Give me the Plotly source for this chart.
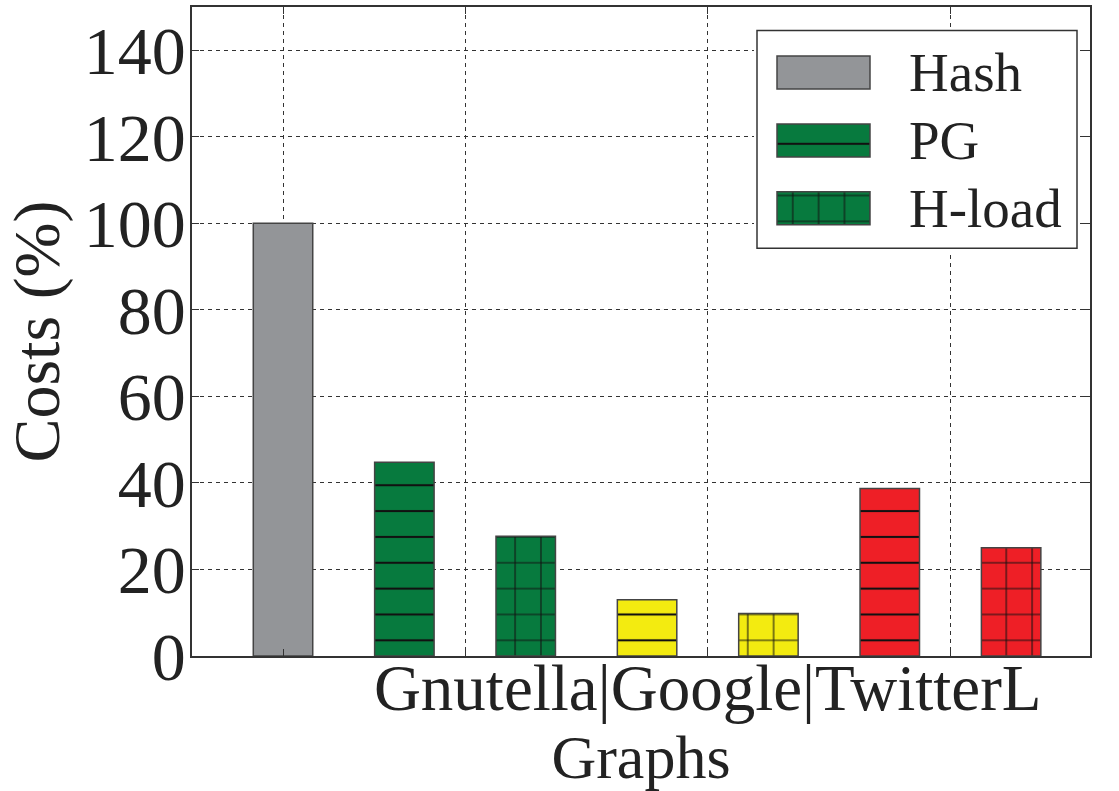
import plotly.graph_objects as go

# ---- data -------------------------------------------------------------
graphs = ["Gnutella", "Google", "TwitterL"]
hash_cost = [100.0]
pg_cost = [44.8, 13.0, 38.7]
hload_cost = [27.7, 9.8, 25.0]
series_names = ["Hash", "PG", "H-load"]
y_ticks = [0, 20, 40, 60, 80, 100, 120, 140]

# ---- styling ----------------------------------------------------------
HASH_COLOR = "#939598"
GROUP_COLORS = ["#077a3e", "#f3eb10", "#ee1f26"]
EDGE = "#444444"
HATCH = "#111111"
TEXT = "#222222"
FONT = "Liberation Serif"
BAR_W = 0.49

W, H = 1119, 791
M_L, M_R, M_T, M_B = 192, 29, 6.5, 135
PLOT_W = W - M_L - M_R
PLOT_H = H - M_T - M_B

# bar slots: Hash at 0, then each graph gets a PG slot and an H-load slot
hash_x = [0]
pg_x = [1 + 2 * i for i in range(len(graphs))]
hl_x = [2 + 2 * i for i in range(len(graphs))]
group_x = [1.5 + 2 * i for i in range(len(graphs))]


def hatch(shape, bg):
    return dict(shape=shape, size=25.85, solidity=0.08, fgcolor=HATCH,
                fgopacity=1, bgcolor=bg, fillmode="replace")


fig = go.Figure()

fig.add_trace(go.Bar(
    x=hash_x, y=hash_cost, width=BAR_W, name=series_names[0],
    marker=dict(color=HASH_COLOR, line=dict(color=EDGE, width=1.5)),
))
for xs, vals, shp, name in ((pg_x, pg_cost, "-", series_names[1]),
                            (hl_x, hload_cost, "+", series_names[2])):
    for x, v, col in zip(xs, vals, GROUP_COLORS):
        fig.add_trace(go.Bar(
            x=[x], y=[v], width=BAR_W, name=name,
            marker=dict(color=col, line=dict(color=EDGE, width=1.5),
                        pattern=hatch(shp, col)),
        ))

# ---- legend drawn in its own small panel ------------------------------
LB_L, LB_R, LB_T, LB_B = 754, 1080, 27, 251   # panel box (pixels)
box_w, box_h = LB_R - LB_L, LB_B - LB_T
# white framed background of the legend
fig.add_trace(go.Bar(
    x=[box_w - 6], base=[3], y=[box_h / 2], width=[box_h - 6], orientation="h",
    marker=dict(color="white", line=dict(color="#333333", width=1.5)),
    xaxis="x2", yaxis="y2", hoverinfo="skip",
))
leg_rows = [box_h - 3 - 42, box_h - 3 - 110, box_h - 3 - 178]
leg_fill = [HASH_COLOR, GROUP_COLORS[0], GROUP_COLORS[0]]
leg_shape = ["", "-", "+"]
for row, fill, shp, name in zip(leg_rows, leg_fill, leg_shape, series_names):
    fig.add_trace(go.Bar(
        x=[93], base=[23], y=[row], width=[33], orientation="h",
        marker=dict(color=fill, line=dict(color=EDGE, width=1.5),
                    pattern=hatch(shp, fill)),
        xaxis="x2", yaxis="y2", hoverinfo="skip",
    ))
    fig.add_annotation(
        x=153, y=row, xref="x2", yref="y2", text=name, showarrow=False,
        xanchor="left", yanchor="middle",
        font=dict(family=FONT, size=55, color=TEXT),
    )

# ---- layout -----------------------------------------------------------
tick_text = ["" for _ in group_x]
tick_text[1] = "|".join(graphs)

fig.update_layout(
    width=W, height=H,
    margin=dict(l=M_L, r=M_R, t=M_T, b=M_B),
    paper_bgcolor="white", plot_bgcolor="white",
    showlegend=False, barmode="overlay",
    font=dict(family=FONT, color=TEXT),
    xaxis=dict(
        range=[-0.75, 6.65],
        tickvals=hash_x + group_x,
        ticktext=[""] + tick_text,
        ticks="inside", ticklen=7, tickcolor="#333333",
        showline=True, linecolor="#333333", linewidth=1.5, mirror="ticks",
        showgrid=True, gridcolor="#333333", gridwidth=1, griddash="4px,4px",
        tickfont=dict(family=FONT, size=65, color=TEXT),
        ticklabelstandoff=-26,
        title=dict(text="Graphs", font=dict(family=FONT, size=62, color=TEXT),
                   standoff=10),
        zeroline=False,
    ),
    yaxis=dict(
        range=[0, 150],
        tickvals=y_ticks,
        ticks="inside", ticklen=7, tickcolor="#333333",
        showline=True, linecolor="#333333", linewidth=1.5, mirror="ticks",
        showgrid=True, gridcolor="#333333", gridwidth=1, griddash="4px,4px",
        tickfont=dict(family=FONT, size=68, color=TEXT),
        ticklabelstandoff=-9,
        title=dict(text="Costs (%)", font=dict(family=FONT, size=66, color=TEXT),
                   standoff=10),
        zeroline=False,
    ),
    xaxis2=dict(
        domain=[(LB_L - M_L) / PLOT_W, (LB_R - M_L) / PLOT_W],
        range=[0, box_w], anchor="y2", visible=False, fixedrange=True,
    ),
    yaxis2=dict(
        domain=[(H - M_B - LB_B) / PLOT_H, (H - M_B - LB_T) / PLOT_H],
        range=[0, box_h], anchor="x2", visible=False, fixedrange=True,
    ),
)

fig.write_html("out.html")
